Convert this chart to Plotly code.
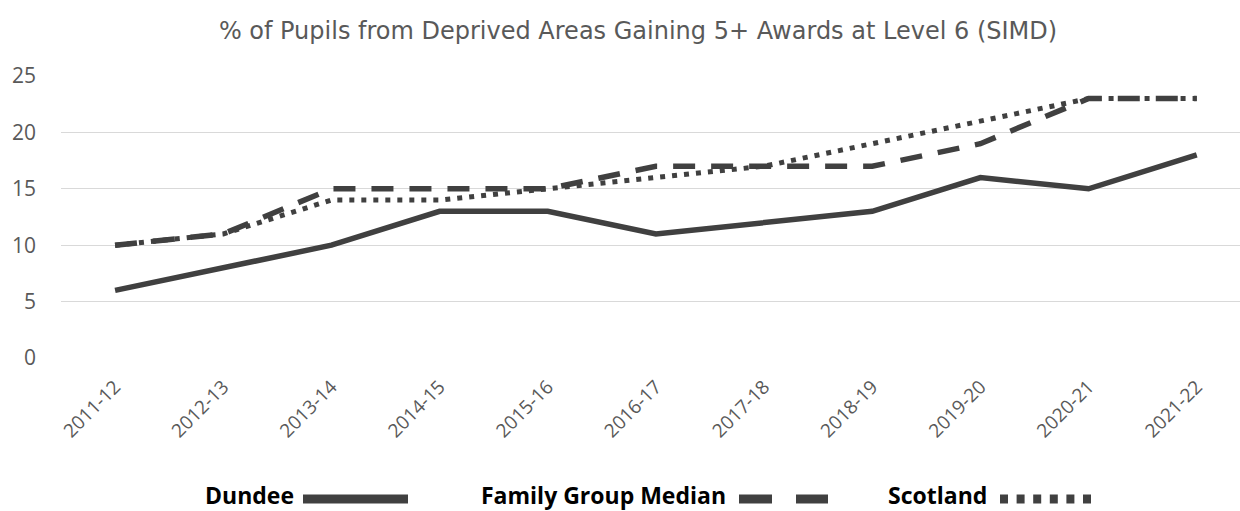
import plotly.graph_objects as go

categories = ["2011-12", "2012-13", "2013-14", "2014-15", "2015-16", "2016-17",
              "2017-18", "2018-19", "2019-20", "2020-21", "2021-22"]
dundee = [6, 8, 10, 13, 13, 11, 12, 13, 16, 15, 18]
family_group_median = [10, 11, 15, 15, 15, 17, 17, 17, 19, 23, 23]
scotland = [10, 11, 14, 14, 15, 16, 17, 19, 21, 23, 23]
y_ticks = [0, 5, 10, 15, 20, 25]

W, H = 1240, 511
L, R, T, B = 61, 0, 76, 153
PW, PH = W - L - R, H - T - B
LINE = "#404040"


def px_x(px):
    return (px - L) / PW


def px_y(py):
    return (H - B - py) / PH


fig = go.Figure()
fig.add_trace(go.Scatter(x=categories, y=dundee, mode="lines", name="Dundee",
                         line=dict(color=LINE, width=5.5), showlegend=False))
fig.add_trace(go.Scatter(x=categories, y=family_group_median, mode="lines",
                         name="Family Group Median",
                         line=dict(color=LINE, width=5.5, dash="22px,16px"),
                         showlegend=False))
fig.add_trace(go.Scatter(x=categories, y=scotland, mode="lines", name="Scotland",
                         line=dict(color=LINE, width=5, dash="5px,7px"),
                         showlegend=False))

# custom legend: text followed by line sample
entries = [
    ("Dundee", 295, 303, 408, None),
    ("Family Group Median", 727, 739, 828, "33px,24px"),
    ("Scotland", 988, 1000, 1091, "8px,8.6px"),
]
shapes = []
annotations = []
for name, text_right, x0, x1, dash in entries:
    annotations.append(dict(text="<b>%s</b>" % name, xref="paper", yref="paper",
                            x=px_x(text_right), y=px_y(495), xanchor="right",
                            yanchor="middle", showarrow=False, borderpad=0,
                            font=dict(family="Open Sans", size=23, color="#000000")))
    line = dict(color=LINE, width=9)
    if dash:
        line["dash"] = dash
    shapes.append(dict(type="line", xref="paper", yref="paper",
                       x0=px_x(x0), x1=px_x(x1), y0=px_y(499), y1=px_y(499),
                       line=line))

fig.update_layout(
    width=W, height=H,
    margin=dict(l=L, r=R, t=T, b=B, pad=0),
    paper_bgcolor="white", plot_bgcolor="white",
    title=dict(text="% of Pupils from Deprived Areas Gaining 5+ Awards at Level 6 (SIMD)",
               x=638 / W, xref="container", xanchor="center",
               y=1 - 31 / H, yref="container", yanchor="middle",
               font=dict(family="DejaVu Sans", size=24, color="#595959")),
    xaxis=dict(type="category", range=[-0.5, 10.4], showgrid=False, showline=False,
               zeroline=False, tickangle=-45, ticks="", ticklabelstandoff=13,
               tickfont=dict(family="Open Sans", size=19, color="#595959")),
    yaxis=dict(range=[0, 25], tickvals=y_ticks, showgrid=True, gridcolor="#d9d9d9",
               gridwidth=1.3, zeroline=False, showline=False, ticks="",
               ticklabelstandoff=24,
               tickfont=dict(family="Open Sans", size=21, color="#595959")),
    shapes=shapes,
    annotations=annotations,
)

fig.write_html("out.html", config={"displayModeBar": False},
               post_script="document.body.style.margin='0';document.body.style.overflow='hidden';")
